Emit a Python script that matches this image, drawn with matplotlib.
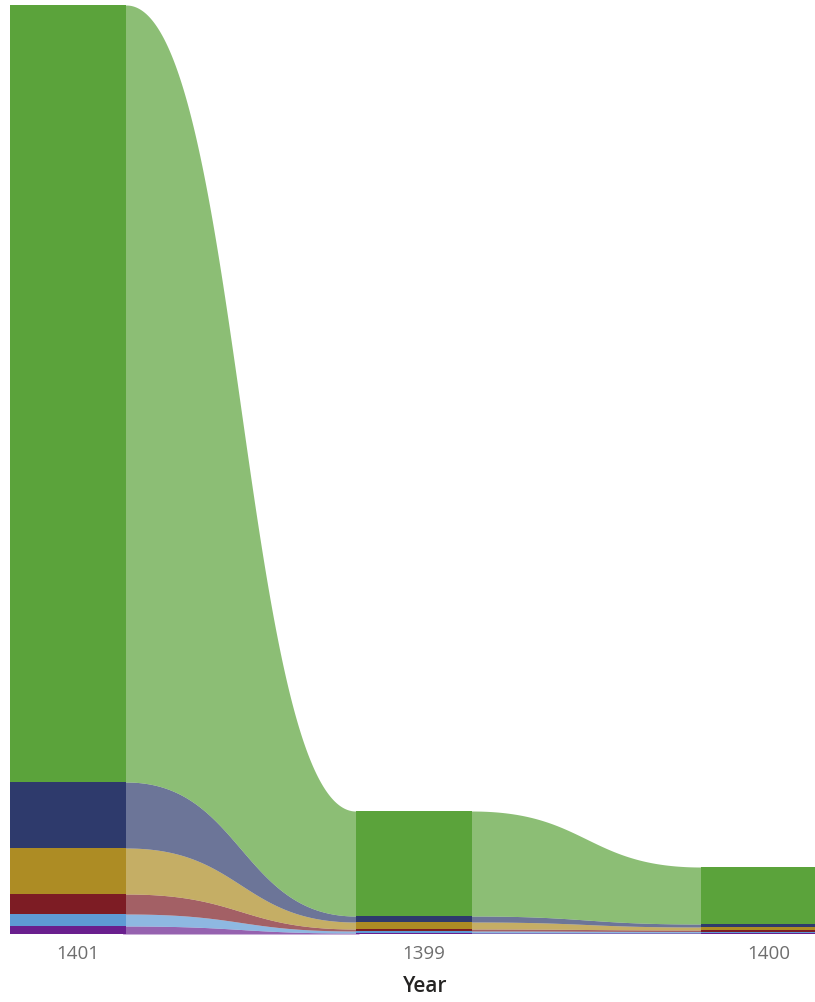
import numpy as np
import matplotlib
matplotlib.use('Agg')
import matplotlib.pyplot as plt
from matplotlib.transforms import ScaledTranslation

# categories, in display order
years = ['1401', '1399', '1400']

# series values per year (stacked bottom -> top)
purple = [8, 1, 1]
light_blue = [12, 2, 1.5]
red = [20, 2, 1.5]
gold = [46, 7, 3]
navy = [66, 6, 3]
green = [777, 105, 57]

stack = [purple, light_blue, red, gold, navy, green]
colors = ['#6A1F8E', '#5E9BD5', '#7D1C24', '#AD8C24', '#2E3A6C', '#5BA33B']

fig = plt.figure(figsize=(8.15, 10.02), dpi=100)
ax = fig.add_axes([0, 68 / 1002, 1, 934 / 1002])

x = np.arange(len(years))
bw = 0.336

# cubic bezier with horizontal tangents, used for the ribbons
t = np.linspace(0, 1, 200)
ease_x = 1.5 * t * (1 - t) + t ** 3
ease_y = 3 * t ** 2 - 2 * t ** 3
ov = 0.01  # small overlap under the bars so no seam shows

bottoms = np.zeros(len(years))
for vals, col in zip(stack, colors):
    vals = np.array(vals, dtype=float)
    tops = bottoms + vals
    ax.bar(x, vals, bw, bottom=bottoms, color=col, linewidth=0, zorder=3)
    for i in range(len(x) - 1):
        x0 = x[i] + bw / 2
        x1 = x[i + 1] - bw / 2
        xs = x0 + (x1 - x0) * ease_x
        lo = bottoms[i] + (bottoms[i + 1] - bottoms[i]) * ease_y
        hi = tops[i] + (tops[i + 1] - tops[i]) * ease_y
        xs = np.r_[x0 - ov, xs, x1 + ov]
        lo = np.r_[lo[0], lo, lo[-1]]
        hi = np.r_[hi[0], hi, hi[-1]]
        ax.fill_between(xs, lo, hi, color=col, alpha=0.7, linewidth=0, zorder=2)
    bottoms = tops

ax.set_xlim(-0.197, 2.162)
ax.set_ylim(0, 934)
for s in ax.spines.values():
    s.set_visible(False)
ax.set_yticks([])
ax.set_xticks(x, years)
ax.tick_params(axis='x', length=0, pad=8, labelsize=13.5, labelcolor='#6E6E6E')
offset = ScaledTranslation(10 / 100, 0, fig.dpi_scale_trans)
for lbl in ax.get_xticklabels():
    lbl.set_fontfamily('Open Sans')
    lbl.set_transform(lbl.get_transform() + offset)

fig.text(425 / 815, 1 - 992 / 1002, 'Year', ha='center', va='baseline',
         fontsize=15, fontweight='semibold', color='#252423', family='Open Sans')

fig.savefig('out.png', dpi=100, facecolor='white')
